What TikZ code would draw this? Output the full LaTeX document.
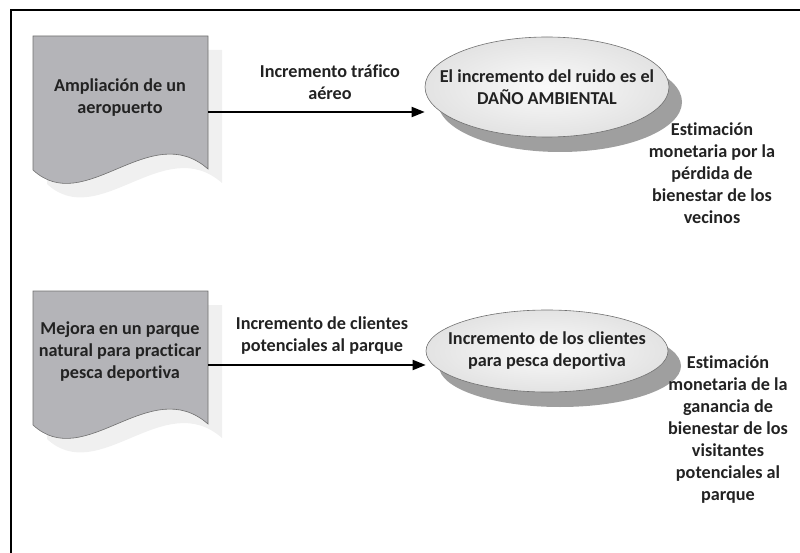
\documentclass[tikz,border=0pt]{standalone}
\usepackage{fontspec}
\setmainfont{Carlito}[Ligatures=NoCommon]
\usetikzlibrary{shapes.geometric,shadows,arrows.meta}

\definecolor{docgray}{HTML}{B4B4B8}
\definecolor{docline}{HTML}{707070}
\definecolor{docshade}{HTML}{F0F0F0}
\definecolor{txt}{HTML}{222222}

\tikzset{
  bold/.style={font=\fontsize{18.2}{22}\selectfont\bfseries, text=txt, align=center},
  docbox/.style={fill=docgray, draw=docline, line width=0.6pt},
  docshadow/.style={fill=docshade},
  elli/.style={bold, ellipse, draw=docline, line width=0.6pt, shading=radial,
    inner color=gray!4, outer color=gray!22, inner xsep=-23pt, inner ysep=0pt,
    drop shadow={shadow xshift=13pt, shadow yshift=-15pt, fill=gray!75, opacity=1}},
  flow/.style={line width=1.8pt, -{Triangle[length=13pt,width=10pt]}}
}

% document shape, top left corner at the origin
\newcommand{\docpath}{(0,0) -- (175,0) -- (175,133)
  .. controls (117,82) and (52,182) .. (0,134) -- cycle}

\begin{document}
\begin{tikzpicture}[x=1pt, y=-1pt]
  \useasboundingbox (0,0) rectangle (800,553);
  \draw[line width=1.6pt] (11,553) -- (11,10) -- (800,10);

  % first case
  \begin{scope}[shift={(33,36)}]
    \fill[docshadow, shift={(14,14)}] \docpath;
    \draw[docbox] \docpath;
  \end{scope}
  \node[bold] (ampl) at (120,98) {Ampliación de un\\aeropuerto};
  \coordinate (ampl-out) at (208,112);
  \node[elli, minimum width=244pt, minimum height=100pt] (dano) at (547,87)
    {El incremento del ruido es el\\DAÑO AMBIENTAL};
  \node[bold] (trafico) at (330,82) {Incremento tráfico\\aéreo};
  \node[bold] (perdida) at (712,173)
    {Estimación\\monetaria por la\\pérdida de\\bienestar de los\\vecinos};
  \draw[flow] (ampl-out) -- (ampl-out -| dano.west);

  % second case
  \begin{scope}[shift={(33,291)}]
    \fill[docshadow, shift={(14,14)}] \docpath;
    \draw[docbox] \docpath;
  \end{scope}
  \node[bold] (mejora) at (120,352)
    {Mejora en un parque\\natural para practicar\\pesca deportiva};
  \coordinate (mejora-out) at (208,365);
  \node[elli, minimum width=242pt, minimum height=82pt] (pesca) at (547,351)
    {Incremento de los clientes\\para pesca deportiva};
  \node[bold] (clientes) at (322,336)
    {Incremento de clientes\\potenciales al parque};
  \node[bold] (ganancia) at (728,430)
    {Estimación\\monetaria de la\\ganancia de\\bienestar de los\\visitantes\\potenciales al\\parque};
  \draw[flow] (mejora-out) -- (mejora-out -| pesca.west);
\end{tikzpicture}
\end{document}
